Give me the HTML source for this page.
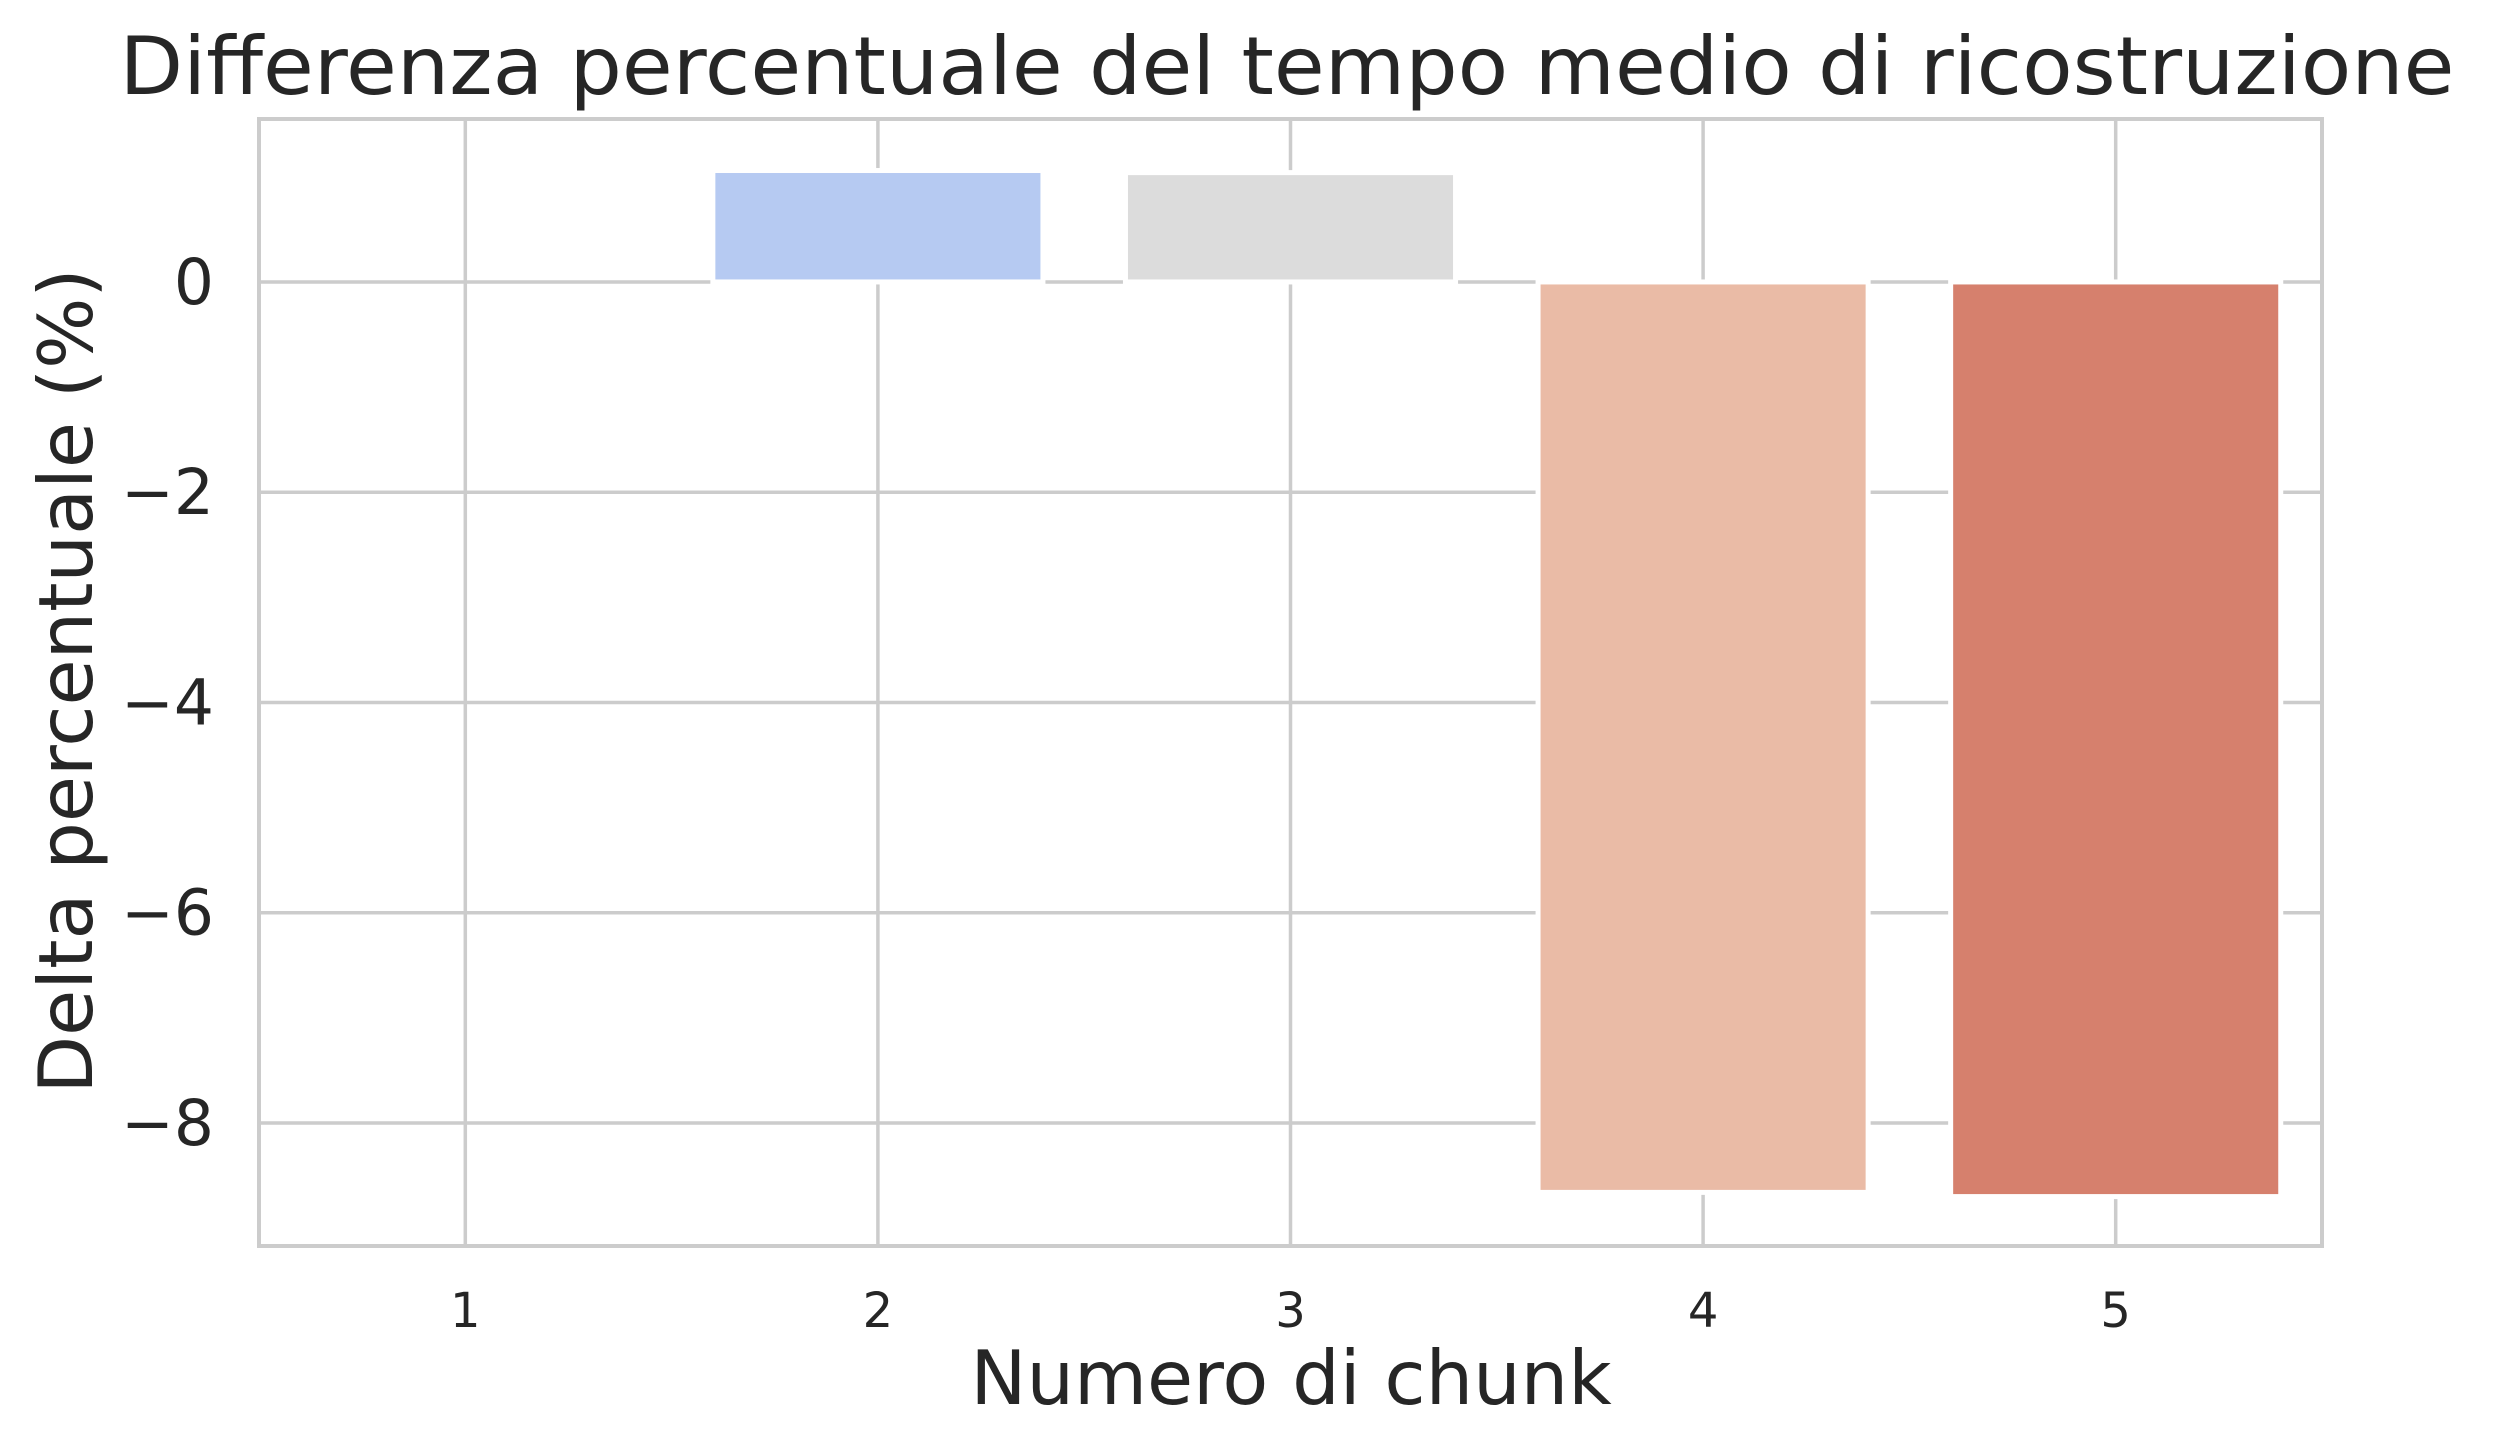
<!DOCTYPE html>
<html><head><meta charset="utf-8"><style>
html,body{margin:0;padding:0;background:#fff;}
svg{display:block;font-family:"DejaVu Sans","Liberation Sans",sans-serif;}
</style></head><body>
<svg id="chart" width="2498" height="1452" viewBox="0 0 2498 1452" xmlns="http://www.w3.org/2000/svg">
<rect width="2498" height="1452" fill="#fff"/>
<g id="grid"></g>
<g id="bars"></g>
<rect id="frame" fill="none" stroke="#cccccc" stroke-width="4"/>
<g id="yticks"></g>
<g id="xticks"></g>
<text x="1287" y="94" text-anchor="middle" font-size="80" fill="#262626" textLength="2335" lengthAdjust="spacingAndGlyphs">Differenza percentuale del tempo medio di ricostruzione</text>
<text x="1291" y="1404" text-anchor="middle" font-size="75" fill="#262626">Numero di chunk</text>
<text transform="translate(92,681) rotate(-90)" text-anchor="middle" font-size="75" fill="#262626">Delta percentuale (%)</text>
</svg>
<script>
const categories = ["1","2","3","4","5"];
const values = [0, 1.06, 1.04, -8.66, -8.70];
const colors = ["#9ab3ef","#b6caf2","#dcdcdc","#eabba6","#d6806d"];
const yTicks = [0,-2,-4,-6,-8];
const yTickLabels = ["0","\u22122","\u22124","\u22126","\u22128"];

const L=259, R=2322, T=119, B=1246;
const yMin=-9.17, yMax=1.55;
const xMin=-0.5, xMax=4.5;
function xs(i){return L+(i-xMin)/(xMax-xMin)*(R-L);}
function ys(v){return T+(yMax-v)/(yMax-yMin)*(B-T);}
const NS="http://www.w3.org/2000/svg";
function mk(tag,attrs,parent){const e=document.createElementNS(NS,tag);for(const k in attrs)e.setAttribute(k,attrs[k]);parent.appendChild(e);return e;}

const grid=document.getElementById('grid');
yTicks.forEach(function(v){
  const l=mk('line',{x1:L,x2:R,y1:ys(v),y2:ys(v),stroke:'#cccccc','stroke-width':3.5},grid);
  
  
});
categories.forEach(function(c,i){
  const l=mk('line',{x1:xs(i),x2:xs(i),y1:T,y2:B,stroke:'#cccccc','stroke-width':3.5},grid);
  
  
});
const bars=document.getElementById('bars');
values.forEach(function(v,i){
  const x0=xs(i-0.4), x1=xs(i+0.4);
  const y0=ys(Math.max(v,0)), y1=ys(Math.min(v,0));
  const r=mk('rect',{x:x0,y:y0,width:x1-x0,height:Math.max(y1-y0,0),fill:colors[i],stroke:'#ffffff','stroke-width':5},bars);
  
  
});
const fr=document.getElementById('frame');
fr.setAttribute('x',L);fr.setAttribute('y',T);fr.setAttribute('width',R-L);fr.setAttribute('height',B-T);
const yt=document.getElementById('yticks');
yTicks.forEach(function(v,k){
  const t=mk('text',{x:L-45,y:ys(v)+22,'text-anchor':'end','font-size':63,fill:'#262626'},yt);
  t.textContent=yTickLabels[k];
  
  
});
const xt=document.getElementById('xticks');
categories.forEach(function(c,i){
  const t=mk('text',{x:xs(i),y:1327,'text-anchor':'middle','font-size':48,fill:'#262626'},xt);
  t.textContent=c;
  
  
});
</script>
</body></html>
